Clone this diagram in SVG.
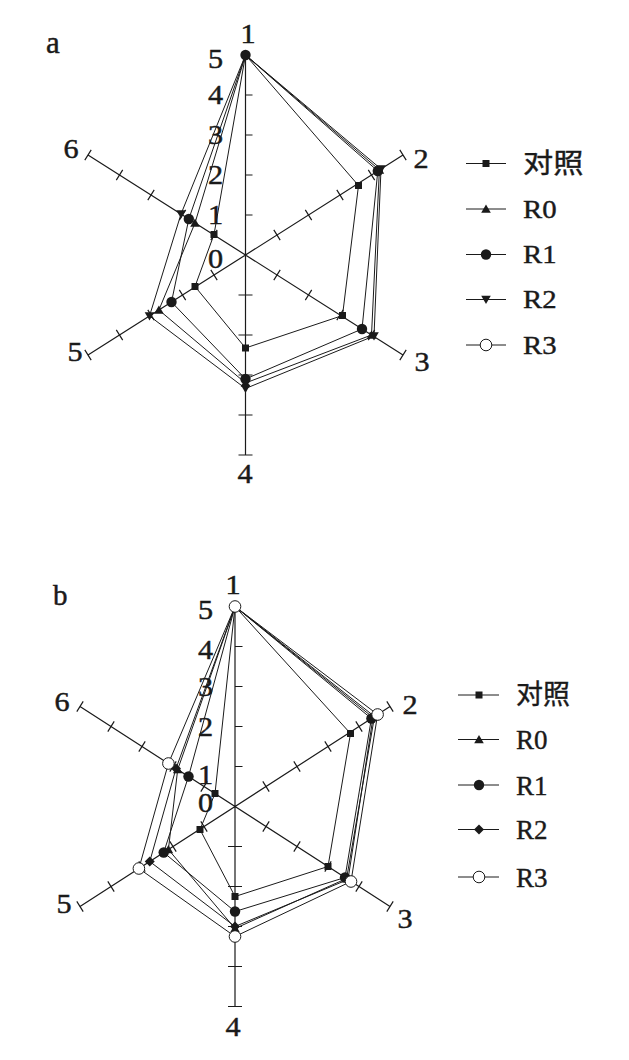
<svg xmlns="http://www.w3.org/2000/svg" xmlns:xlink="http://www.w3.org/1999/xlink" width="629" height="1060" viewBox="0 0 629 1060">
<style>
.ax{stroke:#1a1a1a;stroke-width:1.2;fill:none}
.sr{stroke:#1a1a1a;stroke-width:1;fill:none;stroke-linejoin:round}
.t{font-family:"Liberation Serif","Noto Sans CJK SC",serif;font-size:27px;fill:#1a1a1a;stroke:#1a1a1a;stroke-width:0.45}
.lg{font-family:"Liberation Serif","Noto Sans CJK SC",serif;fill:#1a1a1a;stroke:#1a1a1a;stroke-width:0.4}
</style>
<defs>
<rect id="sq" x="-3.5" y="-3.5" width="7" height="7" fill="#1a1a1a"/>
<polygon id="tu" points="0,-4.5 4.8,3.8 -4.8,3.8" fill="#1a1a1a"/>
<polygon id="td" points="0,4.5 4.8,-3.8 -4.8,-3.8" fill="#1a1a1a"/>
<circle id="ci" r="5.2" fill="#1a1a1a"/>
<polygon id="di" points="0,-5 5,0 0,5 -5,0" fill="#1a1a1a"/>
<circle id="oc" r="5.8" fill="#fff" stroke="#1a1a1a" stroke-width="1"/>
</defs>

<g id="chart-a">
<text class="t" x="46" y="52.5" style="font-size:31px">a</text>
<g id="axes-a">
<path class="ax" d="M245.5 55V455M403 155L88 355M88 155L403 355"/>
<path class="ax" d="M245.5 95h7M245.5 135h7M245.5 175h7M245.5 215h7M238.5 295h14M238.5 335h14M238.5 375h14M238.5 415h14M238.5 455h14
M273.8 229.9L280.2 240.1M305.3 209.9L311.7 220.1M336.8 189.9L343.2 200.1M368.3 169.9L374.7 180.1M399.8 149.9L406.2 160.1
M210.8 269.9L217.2 280.1M179.3 289.9L185.7 300.1M147.8 309.9L154.2 320.1M116.3 329.9L122.7 340.1M84.8 349.9L91.2 360.1
M217.2 229.9L210.8 240.1M185.7 209.9L179.3 220.1M154.2 189.9L147.8 200.1M122.7 169.9L116.3 180.1M91.2 149.9L84.8 160.1
M280.2 269.9L273.8 280.1M311.7 289.9L305.3 300.1M343.2 309.9L336.8 320.1M374.7 329.9L368.3 340.1M406.2 349.9L399.8 360.1"/>
<g class="t" text-anchor="end">
<text transform="translate(223 68) scale(1.12 1)">5</text>
<text transform="translate(223 104) scale(1.12 1)">4</text>
<text transform="translate(223 144) scale(1.12 1)">3</text>
<text transform="translate(223 184) scale(1.12 1)">2</text>
<text transform="translate(223 224) scale(1.12 1)">1</text>
<text transform="translate(223 267.5) scale(1.12 1)">0</text>
</g>
<g class="t" text-anchor="middle">
<text transform="translate(248 42.5) scale(1.12 1)">1</text>
<text transform="translate(421 167.5) scale(1.12 1)">2</text>
<text transform="translate(422 370.5) scale(1.12 1)">3</text>
<text transform="translate(245 482.5) scale(1.12 1)">4</text>
<text transform="translate(75 360.5) scale(1.12 1)">5</text>
<text transform="translate(71 157.5) scale(1.12 1)">6</text>
</g>
</g>
<g id="series-a">
<polygon class="sr" points="245.5,55 358.5,185.5 342.5,315.5 245.5,348 195,286.5 214,234.5"/>
<polygon class="sr" points="245.5,55 379.4,170 371.5,335 245.5,383 158.9,310 195,223"/>
<polygon class="sr" points="245.5,55 377.8,171 362,329 245.5,379 171.5,302 188.8,219"/>
<polygon class="sr" points="245.5,55 381,169 374,336 245.5,388.5 149.5,316 181,214"/>
</g>
<g id="markers-a">
<use href="#sq" x="358.5" y="185.5"/><use href="#sq" x="342.5" y="315.5"/><use href="#sq" x="245.5" y="348"/><use href="#sq" x="195" y="286.5"/><use href="#sq" x="214" y="234.5"/>
<use href="#tu" x="379.4" y="170"/><use href="#tu" x="371.5" y="335"/><use href="#tu" x="245.5" y="383"/><use href="#tu" x="158.9" y="310"/><use href="#tu" x="195" y="223"/>
<use href="#ci" x="245.5" y="55"/><use href="#ci" x="377.8" y="171"/><use href="#ci" x="362" y="329"/><use href="#ci" x="245.5" y="379"/><use href="#ci" x="171.5" y="302"/><use href="#ci" x="188.8" y="219"/>
<use href="#td" x="381" y="169"/><use href="#td" x="374" y="336"/><use href="#td" x="245.5" y="388.5"/><use href="#td" x="149.5" y="316"/><use href="#td" x="181" y="214"/>
</g>
<g id="legend-a">
<path class="sr" d="M466 163.5h40M466 209h40M466 254.5h40M466 299.5h40M466 345h40"/>
<use href="#sq" x="486" y="163.5"/><use href="#tu" x="486" y="209"/><use href="#ci" x="486" y="254.5"/><use href="#td" x="486" y="299.5"/><use href="#oc" x="486" y="345"/>
<g class="lg" font-size="25">
<text transform="translate(523 172.5) scale(1.12 1)" font-size="27">对照</text>
<text transform="translate(523 217.5) scale(1.15 1)">R0</text>
<text transform="translate(523 263) scale(1.15 1)">R1</text>
<text transform="translate(523 308) scale(1.15 1)">R2</text>
<text transform="translate(523 353.5) scale(1.15 1)">R3</text>
</g>
</g>
</g>

<g id="chart-b">
<text class="t" x="53" y="605" style="font-size:29px">b</text>
<g id="axes-b">
<path class="ax" d="M235 606.5V1006.5M390 706.5L80 906.5M80 706.5L390 906.5"/>
<path class="ax" d="M235 646.5h7.5M235 686.5h7.5M235 726.5h7.5M235 766.5h7.5M228 846.5h14M228 886.5h14M228 926.5h14M228 966.5h14M228 1006.5h14
M262.8 781.4L269.2 791.6M293.8 761.4L300.2 771.6M324.8 741.4L331.2 751.6M355.8 721.4L362.2 731.6M386.8 701.4L393.2 711.6
M200.8 821.4L207.2 831.6M169.8 841.4L176.2 851.6M138.8 861.4L145.2 871.6M107.8 881.4L114.2 891.6M76.8 901.4L83.2 911.6
M207.2 781.4L200.8 791.6M176.2 761.4L169.8 771.6M145.2 741.4L138.8 751.6M114.2 721.4L107.8 731.6M83.2 701.4L76.8 711.6
M269.2 821.4L262.8 831.6M300.2 841.4L293.8 851.6M331.2 861.4L324.8 871.6M362.2 881.4L355.8 891.6M393.2 901.4L386.8 911.6"/>
<g class="t" text-anchor="end">
<text transform="translate(213 618.5) scale(1.12 1)">5</text>
<text transform="translate(213 658.5) scale(1.12 1)">4</text>
<text transform="translate(213 695.5) scale(1.12 1)">3</text>
<text transform="translate(213 735.5) scale(1.12 1)">2</text>
<text transform="translate(213 783.5) scale(1.12 1)">1</text>
<text transform="translate(213 811.5) scale(1.12 1)">0</text>
</g>
<g class="t" text-anchor="middle">
<text transform="translate(233 593.5) scale(1.12 1)">1</text>
<text transform="translate(410 713.5) scale(1.12 1)">2</text>
<text transform="translate(405 927.5) scale(1.12 1)">3</text>
<text transform="translate(233 1035.5) scale(1.12 1)">4</text>
<text transform="translate(64 912.5) scale(1.12 1)">5</text>
<text transform="translate(62 710.5) scale(1.12 1)">6</text>
</g>
</g>
<g id="series-b">
<polygon class="sr" points="235,606.5 350.5,733.5 328,866.5 235,896.5 200,829.5 215,793.5"/>
<polygon class="sr" points="235,606.5 374.5,716.5 346.6,878.5 235,928.5 168.4,849.5 177.7,769.5"/>
<polygon class="sr" points="235,606.5 371.4,718.5 345,877.5 235,911.5 163.7,852.5 188.5,776.5"/>
<polygon class="sr" points="235,606.5 373,717.5 348,879.5 235,926.5 149.75,861.5 176,768.5"/>
<polygon class="sr" points="235,606.5 377.6,714.5 351,881.5 235,936.5 138.9,868.5 168.4,763.5"/>
</g>
<g id="markers-b">
<use href="#sq" x="350.5" y="733.5"/><use href="#sq" x="328" y="866.5"/><use href="#sq" x="235" y="896.5"/><use href="#sq" x="200" y="829.5"/><use href="#sq" x="215" y="793.5"/>
<use href="#tu" x="374.5" y="716.5"/><use href="#tu" x="346.6" y="878.5"/><use href="#tu" x="235" y="928.5"/><use href="#tu" x="168.4" y="849.5"/><use href="#tu" x="177.7" y="769.5"/>
<use href="#ci" x="371.4" y="718.5"/><use href="#ci" x="345" y="877.5"/><use href="#ci" x="235" y="911.5"/><use href="#ci" x="163.7" y="852.5"/><use href="#ci" x="188.5" y="776.5"/>
<use href="#di" x="373" y="717.5"/><use href="#di" x="348" y="879.5"/><use href="#di" x="235" y="926.5"/><use href="#di" x="149.75" y="861.5"/><use href="#di" x="176" y="768.5"/>
<use href="#oc" x="235" y="606.5"/><use href="#oc" x="377.6" y="714.5"/><use href="#oc" x="351" y="881.5"/><use href="#oc" x="235" y="936.5"/><use href="#oc" x="138.9" y="868.5"/><use href="#oc" x="168.4" y="763.5"/>
</g>
<g id="legend-b">
<path class="sr" d="M458 695h41M458 739.5h41M458 785h41M458 829.5h41M458 877h41"/>
<use href="#sq" x="479" y="695"/><use href="#tu" x="479" y="739.5"/><use href="#ci" x="479" y="785"/><use href="#di" x="479" y="829.5"/><use href="#oc" x="479" y="877"/>
<g class="lg" font-size="27">
<text x="516" y="704">对照</text>
<text x="516" y="749">R0</text>
<text x="516" y="794.5">R1</text>
<text x="516" y="839">R2</text>
<text x="516" y="886.5">R3</text>
</g>
</g>
</g>
</svg>
